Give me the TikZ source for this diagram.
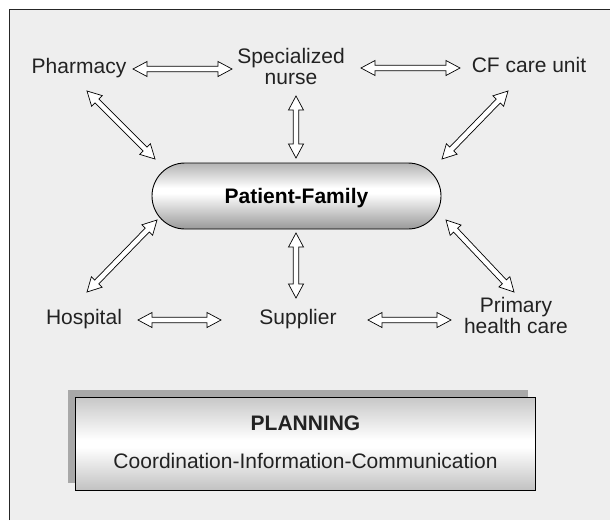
\documentclass[tikz,border=0pt]{standalone}
\usepackage{fontspec}
\setmainfont{Liberation Sans}
\usetikzlibrary{calc,shapes.misc}
\definecolor{bgc}{HTML}{EEEEEE}
\definecolor{txt}{HTML}{222222}
\definecolor{shadowc}{HTML}{A8A8A8}
\pgfdeclareverticalshading{pillshade}{100bp}{color(0bp)=(black!40); color(25bp)=(black!40); color(52bp)=(white); color(56bp)=(white); color(75bp)=(black!30); color(100bp)=(black!30)}
\pgfdeclareverticalshading{planshade}{100bp}{color(0bp)=(black!24); color(25bp)=(black!24); color(48bp)=(white); color(52bp)=(white); color(75bp)=(black!22); color(100bp)=(black!22)}
\tikzset{
  lbl/.style={font=\fontsize{21}{21}\selectfont, text=txt, anchor=base, inner sep=0pt, align=center},
  boldlbl/.style={lbl, font=\bfseries\fontsize{21}{21}\selectfont},
  pill/.style={rounded rectangle, draw=black, line width=0.9pt, shading=pillshade,
    minimum width=289pt, minimum height=66pt, inner sep=0pt, text=black,
    font=\bfseries\fontsize{21}{21}\selectfont, text depth=0pt},
  planbox/.style={rectangle, draw=black, line width=0.9pt, shading=planshade,
    minimum width=460pt, minimum height=93pt, inner sep=0pt},
  fatarrow/.style={draw=black, fill=white, line width=0.7pt, line join=miter,
    to path={
      -- ($(\tikztostart)!14pt!(\tikztotarget)!7.5pt!90:(\tikztotarget)$)
      -- ($(\tikztostart)!14pt!(\tikztotarget)!2.8pt!90:(\tikztotarget)$)
      -- ($(\tikztotarget)!14pt!(\tikztostart)!2.8pt!-90:(\tikztostart)$)
      -- ($(\tikztotarget)!14pt!(\tikztostart)!7.5pt!-90:(\tikztostart)$)
      -- (\tikztotarget)
      -- ($(\tikztotarget)!14pt!(\tikztostart)!7.5pt!90:(\tikztostart)$)
      -- ($(\tikztotarget)!14pt!(\tikztostart)!2.8pt!90:(\tikztostart)$)
      -- ($(\tikztostart)!14pt!(\tikztotarget)!2.8pt!-90:(\tikztotarget)$)
      -- ($(\tikztostart)!14pt!(\tikztotarget)!7.5pt!-90:(\tikztotarget)$)
      -- cycle}}
}
\begin{document}
\begin{tikzpicture}[x=1pt,y=1pt]
\useasboundingbox (0,0) rectangle (610,-520);
\fill[white] (0,0) rectangle (610,-520);
\fill[bgc] (9.5,-9.5) rectangle (610,-520);
\draw[line width=1.5pt, black!85] (9.5,-520) -- (9.5,-9.5) -- (610,-9.5);

% labels (multi-line labels are placed at the baseline of their last line)
\node[lbl] (pharm) at (79,-73) {Pharmacy};
\node[lbl] (nurse) at (291,-84) {Specialized\\nurse};
\node[lbl] (cf) at (529,-72) {CF care unit};
\node[lbl] (hosp) at (84,-324) {Hospital};
\node[lbl] (supp) at (298,-324) {Supplier};
\node[lbl] (prim) at (516,-333) {Primary\\health care};

% central pill
\node[pill] (pf) at (296.5,-196) {Patient-Family};

% arrow end points
\coordinate (pnA) at (133,-69);  \coordinate (pnB) at (232,-69);
\coordinate (ncA) at (361,-68);  \coordinate (ncB) at (460,-68);
\coordinate (hsA) at (138,-320); \coordinate (hsB) at (221,-320);
\coordinate (spA) at (368,-320); \coordinate (spB) at (451,-320);
\coordinate (vtA) at (296,-96);  \coordinate (vtB) at (296,-158);
\coordinate (vbA) at (296,-233); \coordinate (vbB) at (296,-298);
\coordinate (dpA) at (87,-91);   \coordinate (dpB) at (155,-159);
\coordinate (dcA) at (508,-91);  \coordinate (dcB) at (442,-159);
\coordinate (dhA) at (157,-220); \coordinate (dhB) at (87,-292);
\coordinate (drA) at (446,-220); \coordinate (drB) at (514,-292);

\draw[fatarrow] (pnA) to (pnB);
\draw[fatarrow] (ncA) to (ncB);
\draw[fatarrow] (hsA) to (hsB);
\draw[fatarrow] (spA) to (spB);
\draw[fatarrow] (vtA) to (vtB);
\draw[fatarrow] (vbA) to (vbB);
\draw[fatarrow] (dpA) to (dpB);
\draw[fatarrow] (dcA) to (dcB);
\draw[fatarrow] (dhA) to (dhB);
\draw[fatarrow] (drA) to (drB);

% planning box with shadow
\coordinate (shA) at (68,-390);
\coordinate (shB) at (528,-483);
\fill[shadowc] (shA) rectangle (shB);
\node[planbox] (plan) at (305,-443.5) {};
\node[boldlbl] (plant) at (305.5,-430) {PLANNING};
\node[lbl] (coord) at (305.5,-468) {Coordination-Information-Communication};
\end{tikzpicture}
\end{document}
